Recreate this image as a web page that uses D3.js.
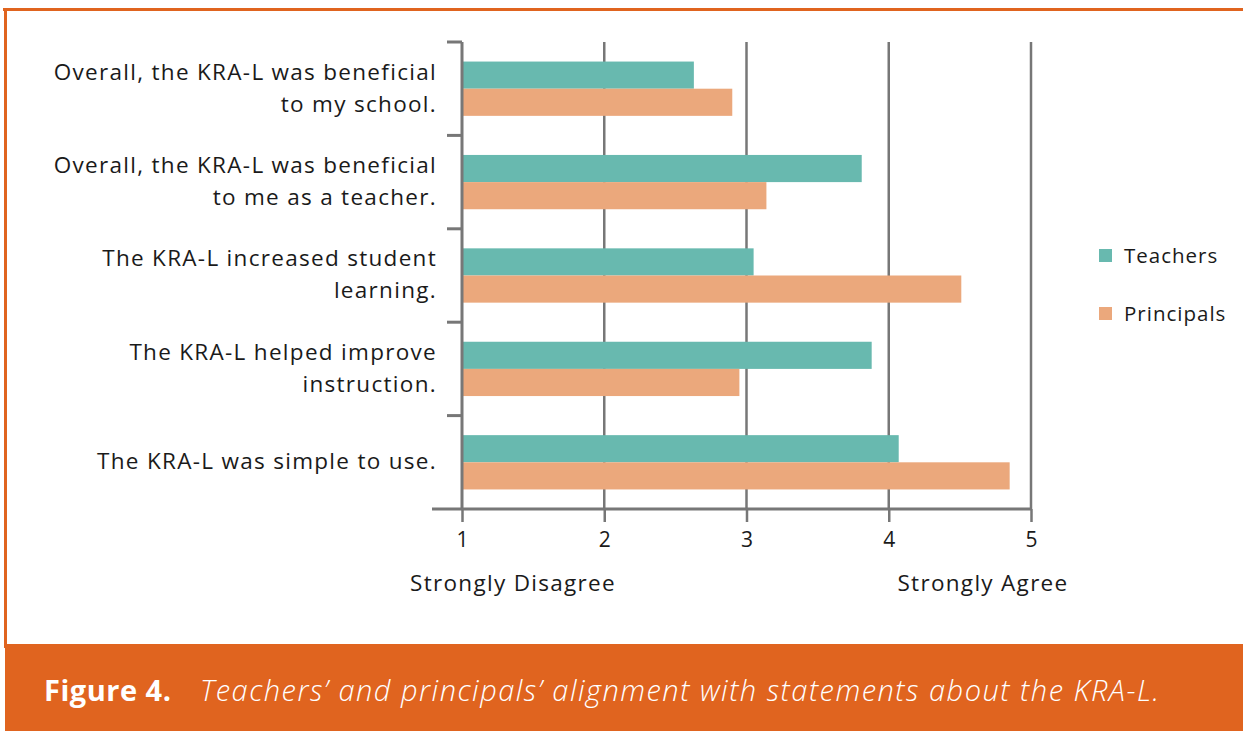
<!DOCTYPE html>
<html>
<head>
<meta charset="utf-8">
<script src="https://cdn.jsdelivr.net/npm/d3@7"></script>
<style>
  body { margin: 0; background: #fff; }
  svg { display: block; font-family: "Open Sans", Lato, sans-serif; }
</style>
</head>
<body>
<svg id="chart" width="1243" height="731"></svg>
<script>
var statements = [
  ["Overall, the KRA-L was beneficial", "to my school."],
  ["Overall, the KRA-L was beneficial", "to me as a teacher."],
  ["The KRA-L increased student", "learning."],
  ["The KRA-L helped improve", "instruction."],
  ["The KRA-L was simple to use."]
]
var teachers = [2.63, 3.81, 3.05, 3.88, 4.07]
var principals = [2.90, 3.14, 4.51, 2.95, 4.85]
var seriesNames = ["Teachers", "Principals"]
var seriesColors = ["#68b9af", "#eba87c"]
var xTicks = [1, 2, 3, 4, 5]
var scaleEnds = ["Strongly Disagree", "Strongly Agree"]
var caption = "Teachers\u2019 and principals\u2019 alignment with statements about the KRA-L."

var svg = d3.select("#chart")
var orange = "#e0641f"
var grey = "#777"
var ink = "#1a1a1a"

// frame: top line, left line, footer band
svg.append("rect").attr("x", 3).attr("y", 8).attr("width", 1240).attr("height", 3).attr("fill", orange)
svg.append("rect").attr("x", 4).attr("y", 8).attr("width", 3).attr("height", 640).attr("fill", orange)
svg.append("rect").attr("x", 5).attr("y", 644).attr("width", 1238).attr("height", 87).attr("fill", orange)

var x = d3.scaleLinear().domain([1, 5]).range([462, 1031])
var y = d3.scaleBand().domain(d3.range(statements.length)).range([42, 509])
var sub = d3.scaleBand().domain([0, 1]).range([0, y.bandwidth()]).paddingOuter(0.72).paddingInner(0)

// grid lines
svg.append("g").selectAll("line")
  .data(xTicks.slice(1))
  .enter().append("line")
  .attr("x1", function(d) { return x(d) }).attr("x2", function(d) { return x(d) })
  .attr("y1", 42).attr("y2", 509)
  .attr("stroke", grey).attr("stroke-width", 2.5)

// bars
var rows = svg.append("g").selectAll("g")
  .data(statements)
  .enter().append("g")
  .attr("transform", function(d, i) { return "translate(0," + y(i) + ")" })

rows.append("rect")
  .attr("x", x(1))
  .attr("y", sub(0))
  .attr("height", sub.bandwidth())
  .attr("width", function(d, i) { return x(teachers[i]) - x(1) })
  .attr("fill", seriesColors[0])

rows.append("rect")
  .attr("x", x(1))
  .attr("y", sub(1))
  .attr("height", sub.bandwidth())
  .attr("width", function(d, i) { return x(principals[i]) - x(1) })
  .attr("fill", seriesColors[1])

// category labels
rows.append("text")
  .attr("text-anchor", "end")
  .attr("font-size", 22.5)
  .attr("letter-spacing", 1.3)
  .attr("fill", ink)
  .each(function(d) {
    var t = d3.select(this)
    var start = y.bandwidth() / 2 - (d.length - 1) * 16 + 7
    d.forEach(function(line, k) {
      t.append("tspan").attr("x", 437).attr("y", start + k * 32).text(line)
    })
  })

// y axis with ticks between categories
var yAxis = svg.append("g")
yAxis.append("line").attr("x1", x(1)).attr("x2", x(1)).attr("y1", 42).attr("y2", 509)
  .attr("stroke", grey).attr("stroke-width", 3)
yAxis.selectAll("line.tk")
  .data(d3.range(statements.length))
  .enter().append("line").attr("class", "tk")
  .attr("x1", 447).attr("x2", x(1))
  .attr("y1", function(d) { return y(d) }).attr("y2", function(d) { return y(d) })
  .attr("stroke", grey).attr("stroke-width", 3)

// x axis
var xAxis = d3.axisBottom(x).tickValues(xTicks).tickFormat(d3.format("d"))
  .tickSize(13).tickPadding(10).tickSizeOuter(0)
var gx = svg.append("g").attr("transform", "translate(0,509)").call(xAxis)
gx.select(".domain").remove()
gx.append("line").attr("x1", 432).attr("x2", x(5)).attr("stroke", grey).attr("stroke-width", 3)
gx.selectAll(".tick line").attr("stroke", grey).attr("stroke-width", 2.5)
gx.selectAll(".tick text").attr("font-size", 21).attr("fill", ink).attr("font-family", "'Open Sans', sans-serif")

svg.append("text").attr("x", 513).attr("y", 591).attr("text-anchor", "middle")
  .attr("font-size", 22.5).attr("letter-spacing", 1.3).attr("fill", ink).text(scaleEnds[0])
svg.append("text").attr("x", 983).attr("y", 591).attr("text-anchor", "middle")
  .attr("font-size", 22.5).attr("letter-spacing", 1.3).attr("fill", ink).text(scaleEnds[1])

// legend
var legend = svg.append("g").selectAll("g")
  .data(seriesNames)
  .enter().append("g")
  .attr("transform", function(d, i) { return "translate(1099," + (249 + i * 58) + ")" })
legend.append("rect").attr("width", 13).attr("height", 13)
  .attr("fill", function(d, i) { return seriesColors[i] })
legend.append("text").attr("x", 25).attr("y", 14).attr("font-size", 20.5).attr("letter-spacing", 1)
  .attr("fill", ink)
  .text(function(d) { return d })

// caption
var cap = svg.append("text").attr("y", 701).attr("font-size", 29).attr("fill", "#fff")
cap.append("tspan").attr("x", 44).attr("font-weight", "bold").attr("letter-spacing", 0.5).text("Figure 4.")
cap.append("tspan").attr("x", 200).attr("font-style", "italic").attr("font-weight", 300)
  .attr("letter-spacing", 1.5).text(caption)
</script>
</body>
</html>
